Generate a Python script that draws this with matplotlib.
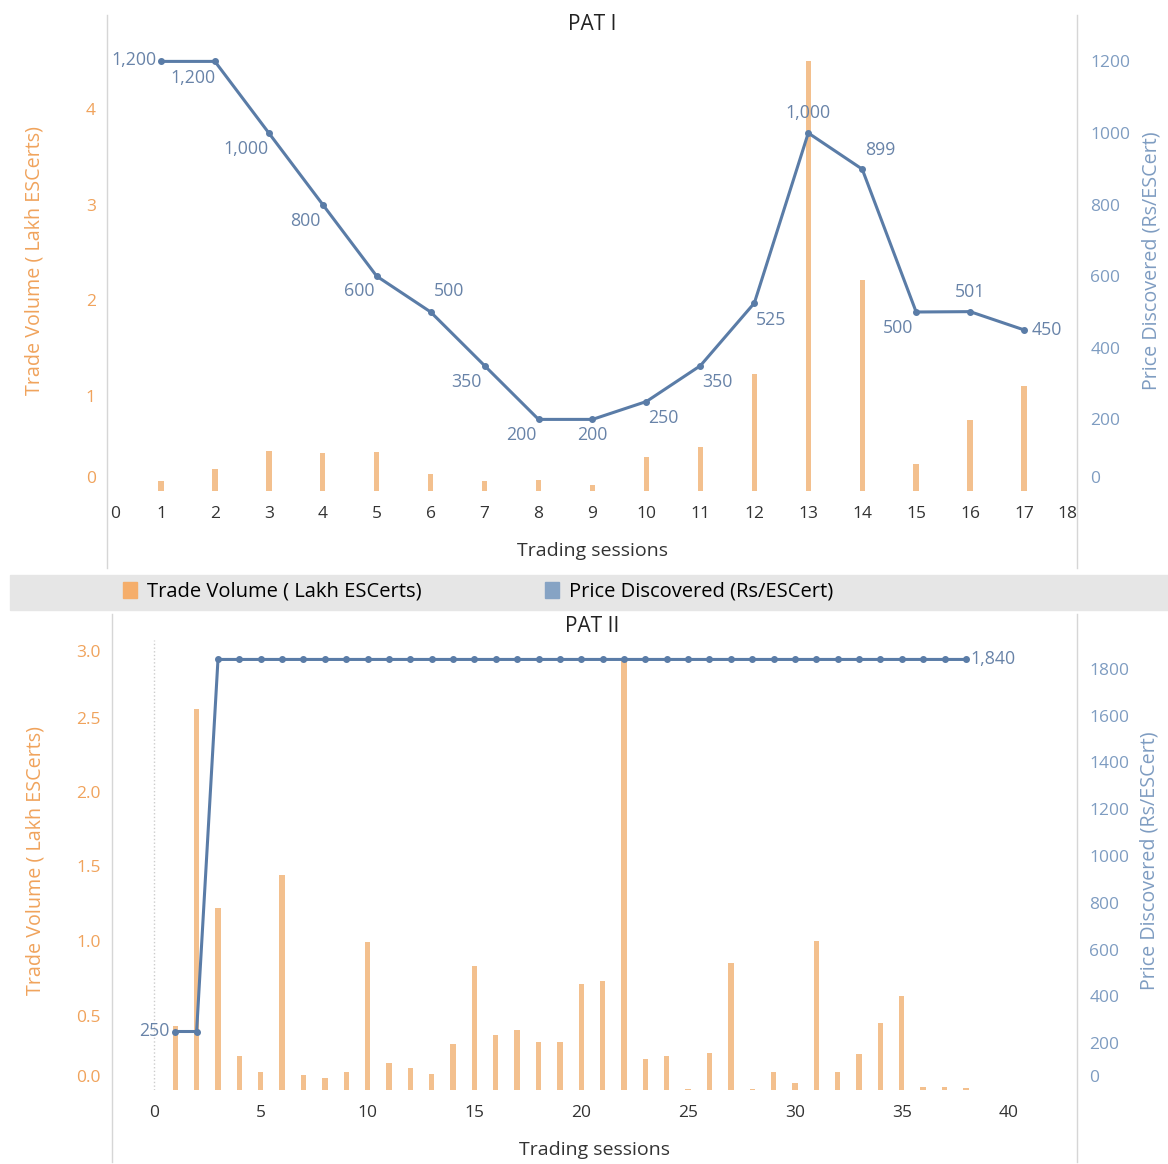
import matplotlib
matplotlib.use("Agg")
import matplotlib.pyplot as plt
import matplotlib.transforms as mtransforms
from matplotlib.lines import Line2D
from matplotlib.patches import Rectangle, Patch

plt.rcParams['font.family'] = ['Open Sans', 'DejaVu Sans']

# PAT I
sessions_1 = list(range(1, 18))
volume_1 = [0.10, 0.23, 0.42, 0.40, 0.41, 0.18, 0.10, 0.11, 0.06, 0.36,
            0.46, 1.23, 4.50, 2.21, 0.28, 0.74, 1.10]
price_1 = [1200, 1200, 1000, 800, 600, 500, 350, 200, 200, 250,
           350, 525, 1000, 899, 500, 501, 450]

# PAT II
sessions_2 = list(range(1, 39))
volume_2 = [0.43, 2.56, 1.22, 0.23, 0.12, 1.44, 0.10, 0.08, 0.12, 0.99,
            0.18, 0.145, 0.11, 0.31, 0.83, 0.37, 0.40, 0.32, 0.32, 0.71,
            0.73, 2.90, 0.21, 0.23, 0.01, 0.25, 0.85, 0.01, 0.12, 0.045,
            1.00, 0.12, 0.24, 0.45, 0.63, 0.02, 0.02, 0.015]
price_2 = [250, 250, 1840, 1840, 1840, 1840, 1840, 1840, 1840, 1840,
           1840, 1840, 1840, 1840, 1840, 1840, 1840, 1840, 1840, 1840,
           1840, 1840, 1840, 1840, 1840, 1840, 1840, 1840, 1840, 1840,
           1840, 1840, 1840, 1840, 1840, 1840, 1840, 1840]

# label placement (pixel offsets from point)
offsets_1 = [(-27, 1), (-22, -17), (-23, -16), (-17, -16), (-17, -15), (18, 21),
             (-18, -16), (-17, -16), (0, -16), (17, -16), (17, -16), (17, -17),
             (0, 20), (18, 19), (-18, -16), (0, 20), (23, 0)]
offsets_2 = {0: (-21, 0), 37: (27, 0)}

bar_col = '#F3C08E'
line_col = '#5A7CA7'
lab_col = '#6883A8'
left_col = '#F0A35C'
right_col = '#7E9CC1'
W, H = 1168, 1164

fig = plt.figure(figsize=(11.68, 11.64), dpi=100)


def px(x0, y0, x1, y1):
    return [x0 / W, 1 - y1 / H, (x1 - x0) / W, (y1 - y0) / H]


def style(ax, ax2):
    for a in (ax, ax2):
        for s in a.spines.values():
            s.set_visible(False)
    ax.tick_params(axis='x', length=0, pad=11, labelsize=12.5, labelcolor='#333333')
    ax.tick_params(axis='y', length=0, pad=8, labelsize=12.5, labelcolor=left_col)
    ax2.tick_params(axis='y', length=0, pad=9, labelsize=12.5, labelcolor=right_col)
    ax.set_xlabel('Trading sessions', fontsize=14, color='#333333', labelpad=14)
    ax.set_ylabel('Trade Volume ( Lakh ESCerts)', fontsize=14.2, color=left_col)
    ax2.set_ylabel('Price Discovered (Rs/ESCert)', fontsize=14.2, color=right_col)


def shift(label, dx, dy):
    label.set_transform(mtransforms.offset_copy(label.get_transform(), fig=fig,
                                                x=dx, y=dy, units='dots'))


# ---- PAT I ----
ax = fig.add_axes(px(107, 30, 1078, 491))
ax2 = ax.twinx()
ax.bar(sessions_1, volume_1, width=0.1, color=bar_col, zorder=2)
ax2.plot(sessions_1, price_1, color=line_col, lw=2.2, marker='o', ms=4, zorder=3)
for i, (x, y) in enumerate(zip(sessions_1, price_1)):
    dx, dy = offsets_1[i]
    ax2.annotate('{:,}'.format(y), (x, y), xytext=(dx, dy), textcoords='offset pixels',
                 ha='center', va='center', fontsize=12.8, color=lab_col)
ax.set_xlim(0, 18)
ax.set_xticks(range(0, 19))
ax.set_ylim(0, 461 / 95.5)
ax.set_yticks([0, 1, 2, 3, 4])
ax2.set_ylim(0, 461 / 0.358)
ax2.set_yticks([0, 200, 400, 600, 800, 1000, 1200])
style(ax, ax2)
ax.yaxis.set_label_coords(-0.064, 0.5)
ax2.yaxis.set_label_coords(1.065, 0.5)
shift(ax.get_yticklabels()[0], 0, 14)
shift(ax2.get_yticklabels()[0], 0, 14)
shift(ax.get_xticklabels()[0], 8, 0)
shift(ax.get_xticklabels()[-1], -11, 0)

# ---- PAT II ----
bx = fig.add_axes(px(112, 640, 1077, 1090))
bx2 = bx.twinx()
bx.axvline(0, color='#CCCCCC', lw=1, ls=':', zorder=1)
bx.bar(sessions_2, volume_2, width=0.25, color=bar_col, zorder=2)
bx2.plot(sessions_2, price_2, color=line_col, lw=2.2, marker='o', ms=4, zorder=3)
for i, (dx, dy) in offsets_2.items():
    bx2.annotate('{:,}'.format(price_2[i]), (sessions_2[i], price_2[i]), xytext=(dx, dy),
                 textcoords='offset pixels', ha='center', va='center',
                 fontsize=12.8, color=lab_col)
bx.set_xlim(-1.96, 43.2)
bx.set_xticks(range(0, 41, 5))
bx.set_ylim(0, 450 / 149)
bx.set_yticks([0, 0.5, 1, 1.5, 2, 2.5, 3])
bx.yaxis.set_major_formatter(matplotlib.ticker.FormatStrFormatter('%.1f'))
bx2.set_ylim(0, 450 / 0.234)
bx2.set_yticks(range(0, 1801, 200))
style(bx, bx2)
bx.yaxis.set_label_coords(-0.069, 0.51)
bx2.yaxis.set_label_coords(1.065, 0.51)
shift(bx.get_yticklabels()[0], 0, 14)
shift(bx.get_yticklabels()[-1], 0, -8)
shift(bx2.get_yticklabels()[0], 0, 14)

# panel borders
for x in (107, 1077):
    fig.add_artist(Line2D([x / W, x / W], [1 - 15 / H, 1 - 568 / H], color='#D6D6D6', lw=1))
for x in (112, 1077):
    fig.add_artist(Line2D([x / W, x / W], [1 - 614 / H, 1 - 1162 / H], color='#D6D6D6', lw=1))

fig.text(592 / W, 1 - 25 / H, 'PAT I', ha='center', va='center', fontsize=15, color='#222222')
fig.text(592 / W, 1 - 626 / H, 'PAT II', ha='center', va='center', fontsize=15, color='#222222')

# legend band
fig.add_artist(Rectangle((10 / W, 1 - 610 / H), 1 - 10 / W, 35 / H,
                         transform=fig.transFigure, color='#E6E6E6', zorder=0))
handles = [Patch(color='#F5AE6B'), Patch(color='#86A3C4')]
fig.legend(handles, ['Trade Volume ( Lakh ESCerts)', 'Price Discovered (Rs/ESCert)'],
           loc='center left', bbox_to_anchor=(123 / W, 1 - 592 / H), ncol=2,
           frameon=False, fontsize=14.5, handlelength=0.7, handleheight=0.8,
           handletextpad=0.5, columnspacing=6.1, borderpad=0, borderaxespad=0)

fig.savefig('out.png', dpi=100)
